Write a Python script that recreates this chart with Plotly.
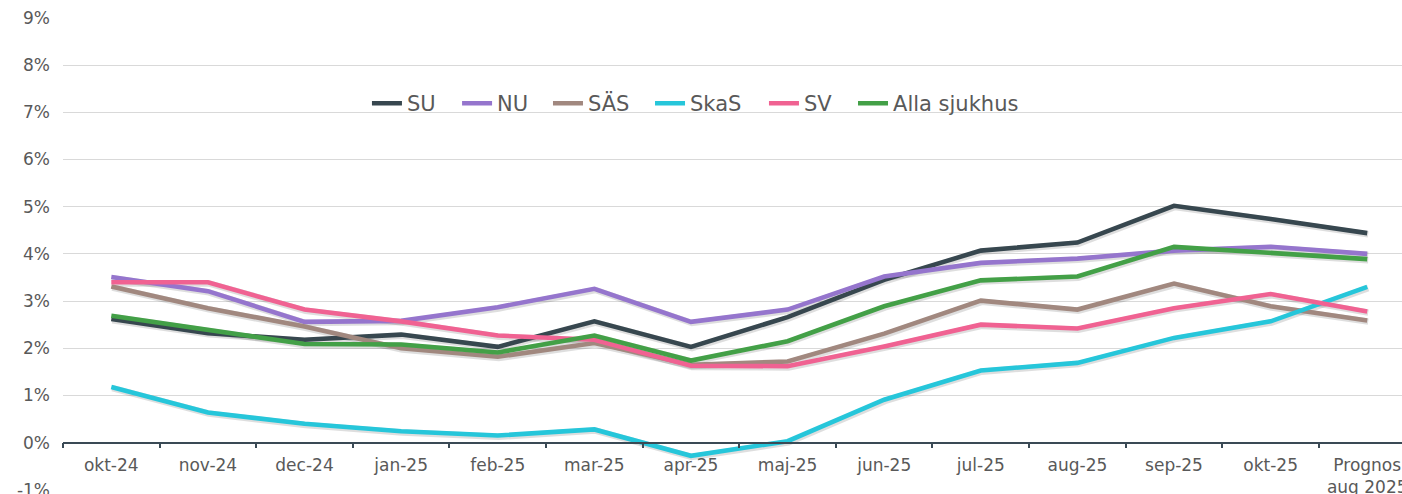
import plotly.graph_objects as go

categories = ["okt-24", "nov-24", "dec-24", "jan-25", "feb-25", "mar-25", "apr-25",
              "maj-25", "jun-25", "jul-25", "aug-25", "sep-25", "okt-25", "Prognos<br>aug 2025"]

su = [2.62, 2.32, 2.18, 2.29, 2.03, 2.57, 2.03, 2.66, 3.45, 4.07, 4.24, 5.02, 4.74, 4.44]
nu = [3.51, 3.21, 2.56, 2.58, 2.87, 3.26, 2.56, 2.82, 3.52, 3.81, 3.90, 4.07, 4.15, 4.00]
sas = [3.31, 2.85, 2.46, 2.00, 1.82, 2.11, 1.65, 1.72, 2.31, 3.01, 2.82, 3.37, 2.89, 2.59]
skas = [1.18, 0.64, 0.40, 0.24, 0.15, 0.28, -0.28, 0.03, 0.91, 1.53, 1.69, 2.22, 2.57, 3.30]
sv = [3.40, 3.40, 2.82, 2.57, 2.27, 2.18, 1.63, 1.62, 2.04, 2.50, 2.42, 2.85, 3.15, 2.78]
alla = [2.69, 2.38, 2.09, 2.08, 1.91, 2.27, 1.74, 2.15, 2.89, 3.44, 3.52, 4.15, 4.03, 3.89]

series_names = ["SU", "NU", "SÄS", "SkaS", "SV", "Alla sjukhus"]
series_values = [su, nu, sas, skas, sv, alla]
series_colors = ["#37474F", "#9575CD", "#A1887F", "#26C6DA", "#F06292", "#43A047"]
legend_x = [0.2270, 0.2943, 0.3622, 0.4384, 0.5235, 0.5900]

y_ticks = list(range(-1, 10))
y_tick_labels = [f"{v}%" for v in y_ticks]

X_RANGE = [-0.5, 13.36]
Y_RANGE = [-1.004, 9]
PX_X = (X_RANGE[1] - X_RANGE[0]) / 1339.0
PX_Y = (Y_RANGE[1] - Y_RANGE[0]) / 472.0

fig = go.Figure()
# invisible anchor trace so the visible base axes get drawn
fig.add_trace(go.Scatter(
    x=categories, y=alla, mode="lines", showlegend=False, hoverinfo="skip",
    opacity=0, line=dict(width=0),
))
# soft shadows (drawn ~1px right / down via slightly shifted hidden axes)
for vals in series_values:
    fig.add_trace(go.Scatter(
        x=categories, y=vals, mode="lines", showlegend=False, hoverinfo="skip",
        line=dict(color="rgba(0,0,0,0.13)", width=6.5),
        xaxis="x2", yaxis="y2",
    ))
legend_ids = ["legend"] + [f"legend{i}" for i in range(2, 7)]
for name, vals, col, lid in zip(series_names, series_values, series_colors, legend_ids):
    fig.add_trace(go.Scatter(
        x=categories, y=vals, name=name, mode="lines",
        line=dict(color=col, width=4.6),
        xaxis="x3", yaxis="y3", legend=lid,
    ))

legend_style = dict(
    orientation="h", xanchor="left", y=0.862, yanchor="top",
    font=dict(size=21, color="#595959", family="DejaVu Sans"),
    bgcolor="rgba(0,0,0,0)",
)
legend_layout = {lid: dict(legend_style, x=lx) for lid, lx in zip(legend_ids, legend_x)}

fig.update_layout(
    width=1402, height=494,
    margin=dict(l=63, r=0, t=18, b=4, autoexpand=False),
    paper_bgcolor="white", plot_bgcolor="white",
    font=dict(family="DejaVu Sans", color="#595959"),
    showlegend=True,
    **legend_layout,
    xaxis=dict(
        type="category", categoryorder="array", categoryarray=categories,
        range=X_RANGE, anchor="free", position=(0 - Y_RANGE[0]) / (Y_RANGE[1] - Y_RANGE[0]),
        showline=True, linecolor="#3A4A55", linewidth=1.5,
        ticks="outside", ticklen=5, tickcolor="#3A4A55", tickwidth=1.5,
        tickson="boundaries", showgrid=False, zeroline=False,
        tickfont=dict(size=17, color="#595959"), ticklabelstandoff=7,
        ticklabeloverflow="allow", automargin=False,
    ),
    yaxis=dict(
        range=Y_RANGE, tickvals=y_ticks, ticktext=y_tick_labels,
        showgrid=True, gridcolor="#D9D9D9", gridwidth=1, zeroline=False,
        showline=False, tickfont=dict(size=17, color="#595959"),
        ticklabelstandoff=12, ticklabeloverflow="allow", automargin=False,
    ),
    xaxis2=dict(
        type="category", categoryorder="array", categoryarray=categories,
        range=[X_RANGE[0] - PX_X, X_RANGE[1] - PX_X], overlaying="x", anchor="y2",
        visible=False, automargin=False,
    ),
    yaxis2=dict(
        range=[Y_RANGE[0] + 1.2 * PX_Y, Y_RANGE[1] + 1.2 * PX_Y], overlaying="y", anchor="x2",
        visible=False, automargin=False,
    ),
    xaxis3=dict(
        type="category", categoryorder="array", categoryarray=categories,
        range=X_RANGE, overlaying="x", anchor="y3", visible=False, automargin=False,
    ),
    yaxis3=dict(
        range=Y_RANGE, overlaying="y", anchor="x3", visible=False, automargin=False,
    ),
)

fig.write_html(
    "out.html",
    config={"displayModeBar": False},
    post_script="document.body.style.margin='0';document.body.style.overflow='hidden';",
)
